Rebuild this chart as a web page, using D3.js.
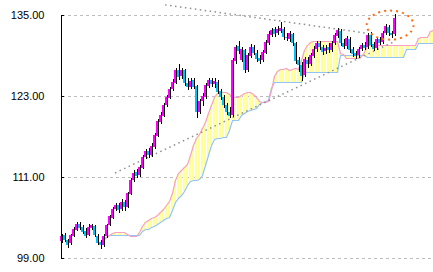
<!DOCTYPE html>
<html><head><meta charset="utf-8">
<script src="https://cdn.jsdelivr.net/npm/d3@7"></script>
<style>body{margin:0;background:#fff}svg{display:block}</style>
</head><body><svg id="c" width="433" height="272"></svg>
<script>
// ---- data ----
const tickValues = [99, 111, 123, 135];
const openP = [101.5,102.4,101.6,101.2,102.3,103.2,104.0,103.6,103.0,102.4,
103.5,103.8,102.3,101.3,100.9,102.2,103.9,105.0,106.3,106.9,
106.2,107.3,106.6,108.5,110.5,111.7,111.3,112.4,113.9,114.9,
114.3,115.5,117.1,119.2,120.1,121.6,122.7,124.0,125.0,126.9,
125.9,126.8,125.0,124.4,125.3,124.5,120.7,122.2,122.9,124.5,
125.4,124.8,125.1,123.7,122.9,121.7,120.7,120.2,128.2,130.4,
128.4,129.8,126.9,128.9,130.2,129.4,128.6,128.3,129.4,130.9,
132.1,132.9,132.3,132.6,133.0,131.8,131.5,132.2,130.9,128.3,
127.6,126.1,128.4,127.8,128.9,129.9,130.9,130.3,129.6,130.2,
129.8,130.8,131.9,132.7,130.9,130.4,131.5,129.9,129.3,129.0,
130.0,130.6,130.2,132.0,130.7,130.1,131.4,131.0,132.3,133.2,
132.4,132.2];
const closeP = [102.3,101.6,101.0,102.4,103.3,104.0,103.5,102.9,102.3,103.6,
103.9,102.4,101.2,100.9,102.3,103.9,105.2,106.3,106.8,106.1,
107.3,106.5,108.6,110.6,111.6,111.2,112.5,114.0,114.8,114.2,
115.6,117.2,119.3,120.2,121.7,122.8,124.1,125.1,126.8,125.8,
126.9,124.9,124.3,125.2,124.4,120.6,122.3,123.0,124.6,125.3,
124.8,125.2,123.6,122.8,121.6,120.6,120.1,128.3,130.3,129.6,
129.9,126.8,129.0,130.3,129.4,128.5,128.2,129.5,131.0,132.2,
132.8,132.2,133.0,133.1,131.7,131.6,132.3,130.8,128.2,127.6,
126.0,128.5,127.7,129.0,130.0,130.8,130.2,129.5,130.1,129.8,
130.9,132.0,132.8,130.8,130.3,131.6,129.8,129.2,128.9,130.0,
130.6,130.1,132.1,130.6,130.0,131.5,130.9,132.4,133.3,132.3,
132.0,134.6];
const highP = [102.6,102.7,101.8,102.6,103.6,104.3,104.4,103.9,103.4,104.0,
104.1,103.9,102.5,101.6,102.5,104.1,105.4,106.6,107.2,107.2,
107.7,107.6,108.8,110.9,112.0,112.2,112.8,114.3,115.2,115.3,
116.0,117.5,119.6,120.6,122.0,123.1,124.4,125.5,127.1,127.8,
127.2,127.0,125.6,125.6,125.6,124.7,122.6,123.4,124.9,125.7,
125.7,125.6,125.3,124.0,123.2,122.0,121.3,128.6,130.6,131.1,
130.2,130.0,129.3,130.7,130.5,129.8,129.0,129.8,131.3,132.6,
133.1,133.2,133.3,134.0,133.2,132.4,132.6,132.4,131.0,128.8,
128.0,128.8,128.8,129.3,130.4,131.1,131.2,130.6,130.5,130.8,
131.2,132.3,133.1,133.0,131.4,131.9,131.8,130.3,129.7,130.3,
130.9,131.0,132.4,132.5,131.0,131.8,131.8,132.7,133.6,133.5,
132.7,135.2];
const lowP = [101.2,101.3,100.5,101.0,102.1,103.0,103.2,102.6,102.0,102.2,
103.2,102.1,100.9,100.3,100.7,102.0,103.7,104.8,106.0,105.7,
106.0,106.0,106.4,108.3,110.3,110.9,111.0,112.2,113.6,113.8,
114.0,115.2,116.9,118.9,119.9,121.3,122.5,123.7,124.8,125.3,
125.5,124.5,123.9,124.0,124.0,119.8,120.3,121.5,122.6,124.2,
124.4,124.2,123.3,122.4,121.2,120.2,119.7,119.9,127.8,129.2,
128.0,126.4,126.6,128.6,129.0,128.1,127.8,128.0,129.2,130.6,
131.8,131.7,132.0,132.3,131.3,131.1,131.0,130.4,127.8,126.6,
125.2,125.8,127.2,127.4,128.6,129.5,129.8,129.1,129.2,129.3,
129.5,130.5,131.6,130.4,129.9,130.0,129.4,128.8,128.5,128.7,
129.7,129.8,129.9,130.2,129.6,129.8,130.5,130.7,132.0,131.9,
131.6,131.9];
const spanStart = 13;
const spanA = [101.2,101.7,102.1,102.4,102.7,102.8,102.8,102.8,102.8,102.5,
102.3,102.3,102.3,102.8,103.7,104.3,104.6,104.9,105.1,105.4,
105.8,106.3,106.9,107.4,108.6,110.6,111.6,112.0,112.5,112.9,
114.3,115.7,116.8,117.4,118.3,119.1,120.5,121.7,122.9,123.4,
123.6,123.6,123.6,123.3,123.0,122.9,122.9,123.1,123.4,123.6,
123.6,123.3,122.9,122.3,122.1,122.1,122.3,123.9,126.0,126.7,
127.0,127.0,127.1,126.9,127.0,127.2,127.0,128.3,129.8,130.6,
131.0,131.1,131.1,131.1,131.1,131.1,131.1,131.1,131.1,131.1,
129.4,129.2,128.6,128.6,128.6,128.6,128.6,128.9,129.5,130.6,
130.6,130.6,130.6,130.6,130.6,130.6,130.6,130.6,130.6,130.6,
130.6,130.6,130.6,130.6,130.6,130.6,131.6,131.7,131.7,131.7,
132.6,132.8];
const spanB = [101.2,101.7,102.1,102.4,102.4,102.4,102.4,102.4,102.4,102.4,
102.4,102.4,102.4,102.4,103.0,103.3,103.3,103.6,103.7,104.0,
104.3,104.6,104.9,105.1,106.1,107.3,107.9,108.3,108.9,109.8,
110.4,110.6,110.6,110.7,111.3,112.8,114.3,115.7,116.6,116.8,
116.8,116.9,116.9,118.0,119.4,119.4,119.4,120.2,120.5,120.8,
120.9,121.1,121.2,121.8,122.1,122.3,122.4,124.2,125.1,125.1,
125.1,125.1,125.1,125.1,125.1,125.1,125.1,125.1,126.6,126.6,
126.6,126.6,126.6,126.6,126.6,126.6,126.6,126.6,126.6,126.6,
129.1,129.1,129.1,129.1,129.1,129.1,129.1,129.1,129.1,128.8,
128.8,128.8,128.8,128.8,128.8,128.8,128.8,128.8,128.8,128.8,
128.8,128.8,129.9,129.9,129.9,129.9,130.9,130.9,130.9,130.9,
130.9,130.9];
// trendlines as [barIndex, price]
const upperTrend = [[34.7, 136.5], [102, 132.3]];
const lowerTrend = [[18, 111.6], [111.3, 131.1]];
// highlight ellipse: center [barIndex, price], radii [bars, price]
const ellipseCenter = [109.7, 133.5];
const ellipseRadius = [7.8, 2.15];

// ---- chart ----
const svg = d3.select("#c");
const W = 433, H = 272;
const x = d3.scaleLinear().domain([0, 124]).range([61, 433]);
const y = d3.scaleLinear().domain([99, 135]).range([258, 15]);

// gridlines
svg.append("g").selectAll("line").data(tickValues).join("line")
  .attr("x1", 62).attr("x2", W)
  .attr("y1", d => Math.round(y(d)) + 0.5).attr("y2", d => Math.round(y(d)) + 0.5)
  .attr("stroke", "#bdbdbd").attr("stroke-dasharray", "3,3").attr("shape-rendering", "crispEdges");

// cloud
const cloud = spanA.map((a, k) => ({i: k + spanStart, a, b: spanB[k]}));
svg.append("g").selectAll("rect").data(cloud).join("rect")
  .attr("x", d => Math.round(x(d.i)) - 1).attr("width", 2)
  .attr("y", d => Math.round(y(Math.max(d.a, d.b))))
  .attr("height", d => Math.max(1, Math.round(y(Math.min(d.a, d.b))) - Math.round(y(Math.max(d.a, d.b)))))
  .attr("fill", "#ffff9c").attr("shape-rendering", "crispEdges");
const ln = key => d3.line().x(d => Math.round(x(d.i)) + 0.5).y(d => Math.round(y(d[key])) + 0.5);
svg.append("path").datum(cloud).attr("d", ln("b")).attr("fill", "none").attr("stroke", "#92c4f4").attr("stroke-width", 1.2);
svg.append("path").datum(cloud).attr("d", ln("a")).attr("fill", "none").attr("stroke", "#f7a0c4").attr("stroke-width", 1.2);

// trendlines
[upperTrend, lowerTrend].forEach(t => {
  svg.append("line")
    .attr("x1", x(t[0][0])).attr("y1", y(t[0][1]))
    .attr("x2", x(t[1][0])).attr("y2", y(t[1][1]))
    .attr("stroke", "#8e8e8e").attr("stroke-width", 1.5).attr("stroke-dasharray", "1.5,3.5");
});

// candles: 2px body with 1px black wick at its right edge
const bars = closeP.map((c, i) => ({i, o: openP[i], h: highP[i], l: lowP[i], c}));
const cg = svg.append("g").attr("shape-rendering", "crispEdges");
cg.selectAll("line").data(bars).join("line")
  .attr("x1", d => Math.round(x(d.i)) + 1.5).attr("x2", d => Math.round(x(d.i)) + 1.5)
  .attr("y1", d => Math.round(y(d.h))).attr("y2", d => Math.round(y(d.l)))
  .attr("stroke", "#000");
cg.selectAll("rect").data(bars).join("rect")
  .attr("x", d => Math.round(x(d.i)) - 1).attr("width", 2)
  .attr("y", d => Math.round(y(Math.max(d.o, d.c))))
  .attr("height", d => Math.max(1, Math.round(y(Math.min(d.o, d.c))) - Math.round(y(Math.max(d.o, d.c)))))
  .attr("fill", d => d.c >= d.o ? "#ff00ff" : "#00c4f4");

// ellipse
svg.append("ellipse")
  .attr("cx", x(ellipseCenter[0])).attr("cy", y(ellipseCenter[1]))
  .attr("rx", x(ellipseRadius[0]) - x(0))
  .attr("ry", Math.abs(y(ellipseCenter[1] + ellipseRadius[1]) - y(ellipseCenter[1])))
  .attr("fill", "none").attr("stroke", "#ff6a10").attr("stroke-width", 2).attr("stroke-dasharray", "2,4");

// axis
const axis = d3.axisLeft(y).tickValues(tickValues).tickSize(-3).tickSizeOuter(0).tickPadding(16)
  .tickFormat(d3.format(".2f"));
const ag = svg.append("g").attr("transform", "translate(60.5,0)").call(axis);
ag.select(".domain").attr("stroke", "#000");
ag.selectAll(".tick line").attr("stroke", "#000");
ag.selectAll(".tick text").attr("font-family", "'Liberation Sans', Arial, sans-serif").attr("font-size", 11).attr("fill", "#000");
ag.attr("shape-rendering", "crispEdges");
</script>
</body></html>
